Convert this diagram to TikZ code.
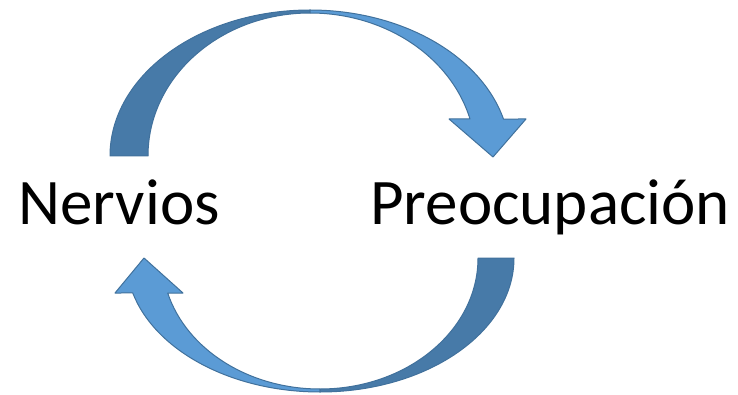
\documentclass[tikz,border=0pt]{standalone}
\usepackage{fontspec}
\setmainfont{Carlito}
\usetikzlibrary{positioning}
\definecolor{arrowlight}{RGB}{91,155,213}
\definecolor{arrowdark}{RGB}{71,122,168}
\definecolor{arrowline}{RGB}{65,113,156}
\tikzstyle{bignode}=[inner sep=0pt, font=\fontsize{65}{72}\selectfont]

\begin{document}
\begin{tikzpicture}[x=1pt, y=1pt,
frontpart/.style={fill=arrowlight, draw=arrowline, line width=1pt, line join=round},
backpart/.style={fill=arrowdark, draw=arrowline, line width=1pt, line join=round},
]
\useasboundingbox (0,0) rectangle (738,394);

%Nodes
\node[bignode, anchor=base west] (nervios_node) at (18,170) {Nervios};
\node[bignode, anchor=base west] (preocupacion_node) at (370,170) {Preocupación};

%Upper arrow
\draw[backpart] (110,238) arc[start angle=180, end angle=90, x radius=200, y radius=146]
  -- (310,381) arc[start angle=90, end angle=180, x radius=162, y radius=143] -- cycle;
\draw[frontpart] (310,384) arc[start angle=90, end angle=14.68, x radius=200, y radius=146]
  -- (526,275) -- (493,237) -- (449,275) -- (470,275)
  arc[start angle=15, end angle=90, x radius=165.6, y radius=143] -- cycle;

%Lower arrow
\draw[backpart] (514,136) arc[start angle=0, end angle=-90, x radius=194, y radius=134]
  -- (320,5) arc[start angle=-90, end angle=0, x radius=158, y radius=131] -- cycle;
\draw[frontpart] (320,2) arc[start angle=270, end angle=195.14, x radius=194, y radius=134]
  -- (115,101) -- (144,136) -- (183,101) -- (167.7,101)
  arc[start angle=195.5, end angle=270, x radius=158, y radius=131] -- cycle;

\end{tikzpicture}
\end{document}
